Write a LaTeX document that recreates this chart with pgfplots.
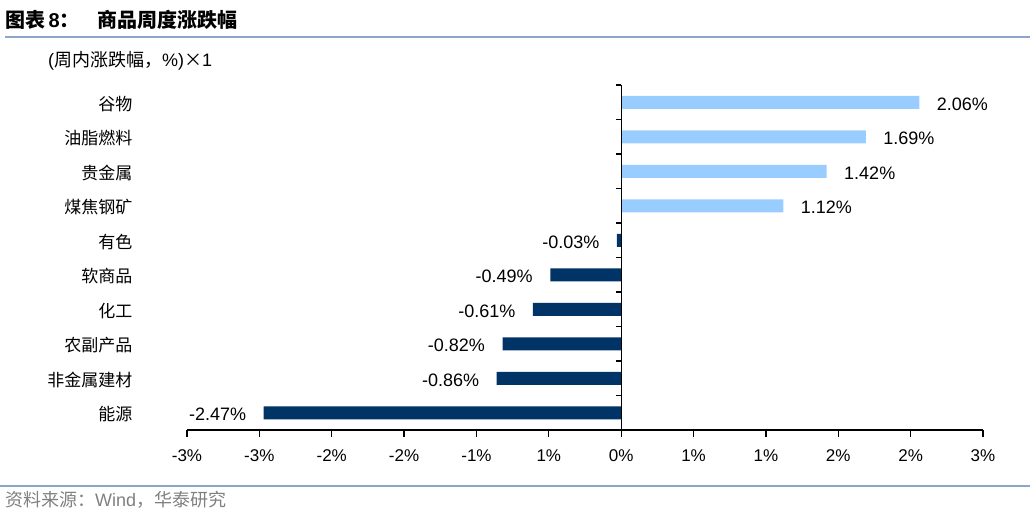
\documentclass[border=0pt]{standalone}
\usepackage{pgfplots}
\pgfplotsset{compat=1.18}
\usepackage{fontspec}
\setmainfont{Liberation Sans}
\newfontfamily\cjk{Noto Sans CJK SC}
\definecolor{lightbar}{RGB}{153,204,255}
\definecolor{darkbar}{RGB}{0,51,102}
\definecolor{rulecol}{RGB}{140,165,200}
\definecolor{srcgray}{RGB}{128,128,128}
\begin{document}
\begin{tikzpicture}
\path[use as bounding box] (0,0) rectangle (1034bp,-515bp);
% title
\node[anchor=west,inner sep=0pt,font=\fontsize{20bp}{24bp}\selectfont\bfseries] at (5bp,-20bp) {{\cjk 图表}\,8{\cjk ：}};
\node[anchor=west,inner sep=0pt,font=\fontsize{20bp}{24bp}\selectfont\bfseries] at (97bp,-20bp) {\cjk 商品周度涨跌幅};
\draw[rulecol,line width=1.5bp] (5bp,-37bp) -- (1030bp,-37bp);
\node[anchor=west,inner sep=0pt,font=\fontsize{18bp}{21bp}\selectfont] at (48bp,-61bp) {({\cjk 周内涨跌幅，}\%){\cjk ×}1};
\draw[rulecol,line width=1.5bp] (0bp,-486bp) -- (1030bp,-486bp);
\node[anchor=west,inner sep=0pt,text=srcgray,font=\fontsize{18bp}{21bp}\selectfont] at (5bp,-500bp) {{\cjk 资料来源：}Wind{\cjk ，华泰研究}};
\begin{axis}[
  at={(187bp,-430bp)}, anchor=south west,
  scale only axis, width=796bp, height=345bp,
  xmin=-3, xmax=2.5, ymin=-0.5, ymax=9.5, y dir=reverse,
  axis x line*=bottom, axis y line*=left,
  y axis line style={draw=none},
  x axis line style={line width=1.3bp},
  xtick={-3,-2.5,-2,-1.5,-1,-0.5,0,0.5,1,1.5,2,2.5},
  xticklabels={-3\%,-3\%,-2\%,-2\%,-1\%,1\%,0\%,1\%,1\%,2\%,2\%,3\%},
  xtick style={line width=1.3bp,black},
  tick align=outside, major tick length=7bp,
  xticklabel style={font=\fontsize{17bp}{20bp}\selectfont, yshift=-9bp},
  ytick={0,...,9},
  yticklabels={谷物,油脂燃料,贵金属,煤焦钢矿,有色,软商品,化工,农副产品,非金属建材,能源},
  yticklabel style={font=\cjk\fontsize{17bp}{20bp}\selectfont, anchor=east, xshift=-44bp, yshift=-1.5bp},
  ytick style={draw=none},
  xbar, bar width=13bp, bar shift=0pt,
  point meta=explicit symbolic,
  nodes near coords,
  nodes near coords style={font=\fontsize{18bp}{21bp}\selectfont, black, yshift=-2bp},
  clip=false,
]
\addplot[draw=none, fill=lightbar, every node near coord/.append style={anchor=west, xshift=14bp}]
 coordinates {(2.06,0) [2.06\%] (1.69,1) [1.69\%] (1.42,2) [1.42\%] (1.12,3) [1.12\%]};
\addplot[draw=none, fill=darkbar, every node near coord/.append style={anchor=east, xshift=-14bp}]
 coordinates {(-0.03,4) [-0.03\%] (-0.49,5) [-0.49\%] (-0.61,6) [-0.61\%] (-0.82,7) [-0.82\%] (-0.86,8) [-0.86\%] (-2.47,9) [-2.47\%]};
\draw[black, line width=1.3bp] (axis cs:0,-0.5) -- (axis cs:0,9.5);
\pgfplotsinvokeforeach{-0.5,0.5,1.5,2.5,3.5,4.5,5.5,6.5,7.5,8.5}{
  \draw[black, line width=1.3bp] (axis cs:0,#1) -- ([xshift=-5bp]axis cs:0,#1);
}
\end{axis}
\end{tikzpicture}
\end{document}
